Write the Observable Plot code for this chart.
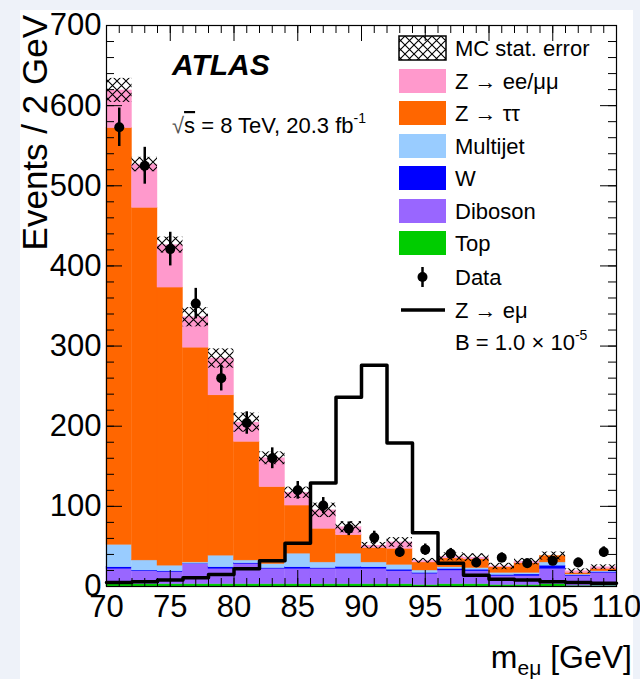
<!DOCTYPE html>
<html><head><meta charset="utf-8">
<script src="https://cdn.jsdelivr.net/npm/d3@7"></script>
<script src="https://cdn.jsdelivr.net/npm/@observablehq/plot@0.6"></script>
<style>
html,body{margin:0;padding:0;background:#eef2f9;width:640px;height:679px;overflow:hidden;}
#panel{position:absolute;left:20px;top:10px;width:613px;height:669px;background:#fff;}
#chart{position:absolute;left:0;top:0;}
svg text{font-family:"Liberation Sans",Arial,Helvetica,sans-serif;}
</style></head><body>
<svg width="0" height="0" style="position:absolute">
  <defs>
    <pattern id="hatch" patternUnits="userSpaceOnUse" width="9" height="9">
      <path d="M0,0 L9,9 M9,0 L0,9" stroke="#000" stroke-width="1.1" fill="none"/>
    </pattern>
  </defs>
</svg>
<div id="panel"></div><div id="chart"></div>
<script>
// ---- data ----
const binLow = [70,72,74,76,78,80,82,84,86,88,90,92,94,96,98,100,102,104,106,108];
const binWidth = 2;
const topMC    = [3,3,3,3,3,3,3,3,3,3,3,3,2,3,3,2,2,3,1,1];
const diboson  = [19,16,15,25,19,25,19,19,19,19,19,16,14,17,16,11,11,19,12,16];
const wBoson   = [2,1,1,0.5,2,1,1,2,1,2.5,2,2,1,2,2,1.5,2,4,1,1];
const multijet = [28,12.5,7,1.5,14.5,3.5,5,17,7,16.5,6,6,3,2,2,2.5,2,4,1,1];
const zTauTau  = [520,440,347,268,200,148,96,60,42,23,18,20,10,11,11,7,12,8,2,3];
const zEEMuMu  = [47,54,53,38,46,24,36,16,23,10,3,8,2,2,2,1,2,0,2,2];
const mcStatErr = [15,9,10,12,12,12,8,7,9,7,4,6,3,5,5,4,4,5,3,3];
const dataCounts = [573,525,421,353,260,204,160,120,101,72,61,43,46,41,30,36,29,32,30,43];
const dataErr    = [24,23,21,19,16,14,13,11,10,8.5,8,6.5,7,6.5,5.5,6,5.5,5.5,5.5,6.5];
const signalZemu = [5,6,8,11,15,22,32,54,129,236,276,179,67,29,14,9,8,6,5,4];
const xTickLabels = [70,75,80,85,90,95,100,105,110];
const yTickLabels = [0,100,200,300,400,500,600,700];
const processNames  = ["Top","Diboson","W","Multijet","Z → ττ","Z → ee/μμ"];
const processColors = ["#00cc00","#9966ff","#0000ff","#99ccff","#ff6600","#ff99cc"];
const legendLabels = ["MC stat. error","Z → ee/μμ","Z → ττ","Multijet","W","Diboson","Top","Data","Z → eμ"];

// ---- build tables ----
const layers = [topMC, diboson, wBoson, multijet, zTauTau, zEEMuMu];
const stackRows = [];
binLow.forEach((x, i) => {
  let c = 0;
  layers.forEach((arr, k) => {
    stackRows.push({x1: x, x2: x + binWidth, y1: c, y2: c + arr[i], process: processNames[k]});
    c += arr[i];
  });
});
const totals = binLow.map((x, i) => layers.reduce((s, a) => s + a[i], 0));
const bandRows = binLow.map((x, i) => ({x1: x, x2: x + binWidth, lo: totals[i] - mcStatErr[i], hi: totals[i] + mcStatErr[i]}));
const dataRows = binLow.map((x, i) => ({xc: x + binWidth / 2, v: dataCounts[i], lo: dataCounts[i] - dataErr[i], hi: dataCounts[i] + dataErr[i]}));
const sigPts = binLow.map((x, i) => ({x, y: signalZemu[i]}));
sigPts.push({x: binLow[binLow.length - 1] + binWidth, y: signalZemu[signalZemu.length - 1]});

const xMinor = d3.range(70, 111, 1), xMajor = d3.range(70, 111, 5);
const yMinor = d3.range(0, 701, 20), yMajor = d3.range(0, 701, 100);

const W = 640, H = 679, mL = 106, mR = 24, mT = 25, mB = 93;
const pw = W - mL - mR, ph = H - mT - mB;
const tMaj = 16, tMin = 8;
const FS = 31;

const plot = Plot.plot({
  width: W, height: H, marginLeft: mL, marginRight: mR, marginTop: mT, marginBottom: mB,
  style: {background: "transparent", overflow: "visible", fontFamily: "Liberation Sans, Arial, sans-serif", color: "black"},
  x: {domain: [70, 110]},
  y: {domain: [0, 700]},
  color: {domain: processNames, range: processColors},
  marks: [
    Plot.rect(stackRows, {x1: "x1", x2: "x2", y1: "y1", y2: "y2", fill: "process", stroke: "process", strokeWidth: 0.4}),
    Plot.rect(bandRows, {x1: "x1", x2: "x2", y1: "lo", y2: "hi", fill: "url(#hatch)"}),
    Plot.line(sigPts, {x: "x", y: "y", curve: "step-after", stroke: "black", strokeWidth: 3.5}),
    Plot.ruleX(dataRows, {x: "xc", y1: "lo", y2: "hi", stroke: "black", strokeWidth: 2.5}),
    Plot.dot(dataRows, {x: "xc", y: "v", r: 5, fill: "black"}),
    // inward ticks on all four sides
    Plot.ruleX(xMinor, {x: d => d, insetTop: ph - tMin, stroke: "black"}),
    Plot.ruleX(xMajor, {x: d => d, insetTop: ph - tMaj, stroke: "black"}),
    Plot.ruleX(xMinor, {x: d => d, insetBottom: ph - tMin, stroke: "black"}),
    Plot.ruleX(xMajor, {x: d => d, insetBottom: ph - tMaj, stroke: "black"}),
    Plot.ruleY(yMinor, {y: d => d, insetRight: pw - tMin, stroke: "black"}),
    Plot.ruleY(yMajor, {y: d => d, insetRight: pw - tMaj, stroke: "black"}),
    Plot.ruleY(yMinor, {y: d => d, insetLeft: pw - tMin, stroke: "black"}),
    Plot.ruleY(yMajor, {y: d => d, insetLeft: pw - tMaj, stroke: "black"}),
    Plot.frame({stroke: "black", strokeWidth: 1.2}),
    Plot.axisX({ticks: xTickLabels, tickSize: 0, tickPadding: 8, fontSize: FS, tickFormat: d => String(d), label: null}),
    Plot.axisY({ticks: yTickLabels, tickSize: 0, tickPadding: 5, fontSize: FS, tickFormat: d => String(d), label: null})
  ]
});
document.getElementById("chart").appendChild(plot);

// ---- titles, labels, legend ----
const svg = d3.select(plot);
svg.append("text").attr("transform", "translate(47,15) rotate(-90)").attr("text-anchor", "end")
  .attr("font-size", 35).attr("fill", "black").text("Events / 2 GeV");
const xt = svg.append("text").attr("x", 632).attr("y", 668).attr("text-anchor", "end").attr("font-size", 32).attr("fill", "black");
xt.append("tspan").text("m");
xt.append("tspan").attr("font-size", 21).attr("dy", 7).text("eμ");
xt.append("tspan").attr("dy", -7).text(" [GeV]");

svg.append("text").attr("x", 172).attr("y", 75).attr("text-anchor", "start").attr("font-size", 30).attr("font-weight", "bold")
  .attr("font-style", "italic").attr("fill", "black").text("ATLAS");
const en = svg.append("text").attr("x", 172).attr("y", 133).attr("text-anchor", "start").attr("font-size", 22).attr("fill", "black");
en.append("tspan").attr("fill", "#555").text("√");
en.append("tspan").attr("text-decoration", "overline").text("s");
en.append("tspan").text(" = 8 TeV, 20.3 fb");
en.append("tspan").attr("font-size", 14).attr("dy", -10).text("-1");

const rowY = [48, 81, 113, 146, 178, 211, 243, 277, 310, 342];
const lg = svg.append("g").attr("text-anchor", "start");
const bx = 399, bw = 47, bh = 24, tx = 455;
// hatched MC error box
lg.append("rect").attr("x", bx).attr("y", rowY[0] - bh / 2).attr("width", bw).attr("height", bh)
  .attr("fill", "url(#hatch)").attr("stroke", "black").attr("stroke-width", 1.5);
// process boxes (top of stack first)
const boxOrder = [5, 4, 3, 2, 1, 0];
boxOrder.forEach((k, j) => {
  lg.append("rect").attr("x", bx).attr("y", rowY[j + 1] - bh / 2).attr("width", bw).attr("height", bh).attr("fill", processColors[k]);
});
// data marker
lg.append("line").attr("x1", bx + bw / 2).attr("x2", bx + bw / 2).attr("y1", rowY[7] - 10).attr("y2", rowY[7] + 10).attr("stroke", "black").attr("stroke-width", 2.5);
lg.append("circle").attr("cx", bx + bw / 2).attr("cy", rowY[7]).attr("r", 5).attr("fill", "black");
// signal line
lg.append("line").attr("x1", bx + 2).attr("x2", bx + bw - 1).attr("y1", rowY[8]).attr("y2", rowY[8]).attr("stroke", "black").attr("stroke-width", 3.5);
legendLabels.forEach((t, j) => {
  lg.append("text").attr("x", tx).attr("y", rowY[j] + 8).attr("text-anchor", "start").attr("font-size", 22).attr("fill", "black").text(t);
});
const bt = lg.append("text").attr("x", tx).attr("y", rowY[9] + 8).attr("text-anchor", "start").attr("font-size", 22).attr("fill", "black");
bt.append("tspan").text("B = 1.0 × 10");
bt.append("tspan").attr("font-size", 14).attr("dy", -10).text("-5");
</script>
</body></html>
